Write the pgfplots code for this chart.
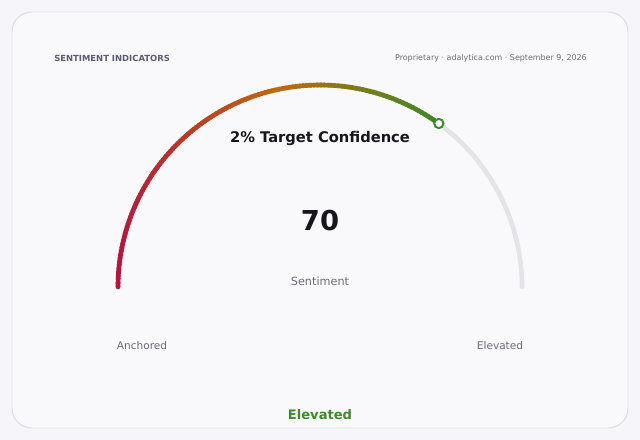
\documentclass[border=0pt]{standalone}
\usepackage{pgfplots}
\pgfplotsset{compat=1.18}
\usepackage{pgfplotstable}
\usepackage{fontspec}
\setmainfont{DejaVu Sans}

\definecolor{pagebg}{HTML}{F6F6FA}
\definecolor{cardbg}{HTML}{F9F9FC}
\definecolor{cardline}{HTML}{DDDDE6}
\definecolor{track}{HTML}{E4E4E8}
\definecolor{gred}{HTML}{B5173C}
\definecolor{gorange}{HTML}{BC6A12}
\definecolor{ggreen}{HTML}{3C8A28}
\definecolor{muted}{HTML}{6B6B78}
\definecolor{header}{HTML}{5C5C70}
\definecolor{ink}{HTML}{16161C}

% gauge reading (scale 0-100)
\pgfplotstableread{
idx reading
0 70
}\gaugedata
\pgfplotstablegetelem{0}{reading}\of\gaugedata
\edef\gaugeval{\pgfplotsretval}

\begin{document}
\begin{tikzpicture}
% 1 unit = 1 px of the 640x440 reference
\begin{scope}[x=0.025cm,y=0.025cm]
\fill[pagebg] (0,0) rectangle (640,440);
\draw[cardline,fill=cardbg,line width=0.7pt,rounded corners=0.5cm] (12,12) rectangle (628,428);

\pgfmathsetmacro\endang{180-1.8*\gaugeval}
% grey track
\draw[track,line width=3.3pt,line cap=round] (522,153) arc[start angle=0,end angle=\endang,radius=5.05cm];
% gradient value arc
\fill[gred] (118,153) circle (1.65pt);
\pgfmathtruncatemacro\nseg{180-\endang}
\foreach \i in {1,...,\nseg}{
  \pgfmathsetmacro\aa{180-(\i-1)*(180-\endang)/\nseg}
  \pgfmathsetmacro\ab{max(\endang,180-\i*(180-\endang)/\nseg-0.5)}
  \pgfmathsetmacro\xm{320+202*cos((\aa+\ab)/2)}
  \pgfmathsetmacro\t{(\xm-118)/(438.7-118)}
  \pgfmathtruncatemacro\pa{min(100,max(0,200*\t))}
  \pgfmathtruncatemacro\pb{min(100,max(0,200*\t-100))}
  \colorlet{c1}{gorange!\pa!gred}
  \colorlet{segc}{ggreen!\pb!c1}
  \draw[segc,line width=3.3pt] ({320+202*cos(\aa)},{153+202*sin(\aa)}) arc[start angle=\aa,end angle=\ab,radius=5.05cm];
}
\end{scope}

\begin{axis}[width=16cm,height=11cm,scale only axis,
  xmin=0,xmax=640,ymin=0,ymax=440,hide axis,clip=false]
\addplot[only marks,mark=*,mark size=3.3pt,
  mark options={fill=white,draw=ggreen,line width=1.4pt}]
  table[x expr={320+202*cos(180-1.8*\thisrow{reading})},
        y expr={153+202*sin(180-1.8*\thisrow{reading})}]{\gaugedata};
\end{axis}

\begin{scope}[x=0.025cm,y=0.025cm]
\node[anchor=west,inner sep=0pt,header,font=\fontsize{6pt}{7pt}\selectfont\bfseries] at (54,382) {SENTIMENT INDICATORS};
\node[anchor=east,inner sep=0pt,muted,font=\fontsize{5.65pt}{6.5pt}\selectfont] at (587,382) {Proprietary · adalytica.com · September 9, 2026};
\node[ink,font=\fontsize{10.45pt}{12pt}\selectfont\bfseries] at (320,301) {2\% Target Confidence};
\node[ink,font=\fontsize{19.5pt}{22pt}\selectfont\bfseries] at (320,219) {70};
\node[muted,font=\fontsize{8pt}{10pt}\selectfont] at (320,159) {Sentiment};
\node[muted,font=\fontsize{7.5pt}{9pt}\selectfont] at (142,94) {Anchored};
\node[muted,font=\fontsize{7.5pt}{9pt}\selectfont] at (500,94) {Elevated};
\node[ggreen,font=\fontsize{9.3pt}{11pt}\selectfont\bfseries] at (320,25) {Elevated};
\end{scope}
\end{tikzpicture}
\end{document}
